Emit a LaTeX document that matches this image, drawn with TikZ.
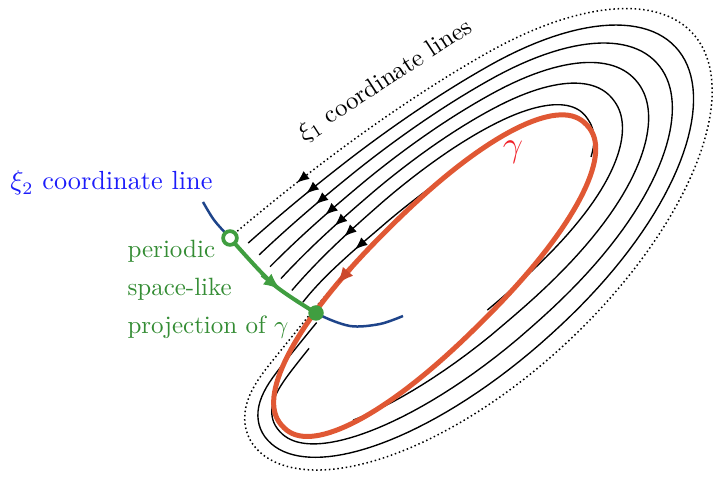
\documentclass[tikz,border=0pt]{standalone}
\usepackage{tikz}
\usetikzlibrary{arrows.meta,calc}

\definecolor{orbitred}{RGB}{224,88,52}
\definecolor{orbitdark}{RGB}{204,72,44}
\definecolor{gammatext}{RGB}{240,32,40}
\definecolor{xiblue}{RGB}{28,28,250}
\definecolor{curveblue}{RGB}{30,68,138}
\definecolor{projgreen}{RGB}{64,158,64}
\definecolor{projtext}{RGB}{52,140,52}

\begin{document}
\begin{tikzpicture}[
    x=0.4pt, y=-0.4pt,
    font=\normalsize,
    xiline/.style    ={line width=0.55pt, line join=round},
    xidots/.style    ={line width=0.6pt, dash pattern=on 0.6pt off 1.1pt},
    xitip/.style     ={line width=0.55pt, -{Latex[length=5pt,width=4pt]}},
    orbit/.style     ={draw=orbitred, line width=2pt},
    orbittip/.style  ={draw=orbitred, line width=2pt, -{Latex[length=7pt,width=5.5pt,color=orbitdark]}},
    proj/.style      ={draw=projgreen, line width=1.6pt},
    projtip/.style   ={draw=projgreen, line width=1.6pt, -{Latex[length=7pt,width=5.5pt]}},
    xitwo/.style     ={draw=curveblue, line width=1pt},
    hollowdot/.style ={circle, draw=projgreen, line width=1.5pt, fill=white, inner sep=0pt, minimum size=5.5pt},
    fulldot/.style   ={circle, fill=projgreen, inner sep=0pt, minimum size=6.2pt},
    % outer line d(t), orbit c(s), and the lines in between
    declare function={
      sg(\x)=1/(1+exp(-max(min(\x,9),-9)));
      sp(\x)=\x*(abs(\x)+0.0001)^(-0.1);
      tau(\t)=(123-\t)/360;
      du(\t)=53+303*cos(\t);
      dv(\t)=6+141*sin(\t)+47*max(1-(123-\t)/60,0)^2;
      cu(\s)=2+214*sp(cos(\s));
      cv(\s)=4+0.03*cu(\s)+66*sp(sin(\s));
      tg(\t)=atan2(0.663*sin(\t),cos(\t))
             -14.4*(exp(max(-(tau(\t)/0.15)^2,-9))+exp(max(-((tau(\t)-1)/0.15)^2,-9)));
      pp(\t)=0.143+0.012*(1-exp(max(-(tau(\t)/0.15)^2,-9)))+0.25*sg((tau(\t)-0.64)/0.06);
      qq(\t)=0.013*(1-exp(max(-(tau(\t)/0.3)^2,-9)));
      ww(\t)=sg((tau(\t)-0.905)/0.03);
      ff(\t,\k)=(\k*pp(\t)+\k*(\k-1)*qq(\t)+0.08*max(\k-5,0)*(1-exp(max(-(tau(\t)/0.08)^2,-9))))*(1-ww(\t))
                +(1+0.15*\k)*ww(\t);
      lu(\t,\k)=du(\t)+ff(\t,\k)*(cu(tg(\t))-du(\t));
      lv(\t,\k)=dv(\t)+ff(\t,\k)*(cv(tg(\t))-dv(\t));
    }
  ]
  \useasboundingbox (0,0) rectangle (713,478);

  \coordinate (g-start) at (230,238);
  \coordinate (g-mid)   at (273,284);
  \coordinate (g-end)   at (316,313);
  \coordinate (b-top)   at (203,202);
  \coordinate (b-end)   at (403,316);

  % --- xi_2 coordinate line ---
  \draw[xitwo] plot[smooth] coordinates {(b-top) (214,220) (g-start) (g-mid) (g-end) (350,326) (380,324) (b-end)};

  \begin{scope}[shift={(436,280)}, rotate=43, yscale=-1]
    % --- xi_1 coordinate lines ---
    \draw[xidots] plot[domain=123:-244.2, samples=160, variable=\t] ({lu(\t,0)},{lv(\t,0)});
    \draw[xiline] plot[domain=123:-235.9, samples=150, variable=\t] ({lu(\t,1)},{lv(\t,1)});
    \draw[xiline] plot[domain=123:-227.6, samples=150, variable=\t] ({lu(\t,2)},{lv(\t,2)});
    \draw[xiline] plot[domain=123:-123.2, samples=110, variable=\t] ({lu(\t,3)},{lv(\t,3)});
    \draw[xiline] plot[domain=123:-87.6,  samples=95,  variable=\t] ({lu(\t,4)},{lv(\t,4)});
    \draw[xiline] plot[domain=123:-31.8,  samples=70,  variable=\t] ({lu(\t,5)},{lv(\t,5)});
    \draw[xiline] plot[domain=123:87,     samples=25,  variable=\t] ({lu(\t,6)},{lv(\t,6)});
    % arrow heads, pointing back to the start
    \foreach \k in {0,...,6}{
      \pgfmathsetmacro\ta{107-0.3*\k}
      \coordinate (a\k-tip)  at ({lu(\ta,\k)},{lv(\ta,\k)});
      \coordinate (a\k-tail) at ({lu(\ta-2,\k)},{lv(\ta-2,\k)});
      \draw[xitip] (a\k-tail) -- (a\k-tip);
    }

    % --- periodic orbit gamma ---
    \draw[orbit] plot[domain=0:360, samples=140, variable=\s] ({cu(\s)},{cv(\s)}) -- cycle;
    \coordinate (o-tail) at ({cu(103)},{cv(103)});
    \coordinate (o-tip)  at ({cu(109)},{cv(109)});
    \draw[orbittip] (o-tail) -- (o-tip);
  \end{scope}

  % --- projection ---
  \coordinate (p-base) at (262,275);
  \coordinate (p-tip)  at (281,290);
  \draw[proj] plot[smooth] coordinates {(g-start) (g-mid) (g-end)};
  \draw[projtip] (p-base) -- (p-tip);
  \node[hollowdot] (start-dot) at (g-start) {};
  \node[fulldot]   (end-dot)   at (g-end) {};

  % --- labels ---
  \node[anchor=base west, inner sep=0pt, text=xiblue, font=\fontsize{10.5}{12.6}\selectfont] (xi2-label) at (10,190)
      {$\xi_2$ coordinate line};
  \node[anchor=west, inner sep=0pt, text=projtext, align=left] (proj-label) at (127,289)
      {periodic\\[3.2pt]space-like\\[3.2pt]projection of $\gamma$};
  \node[anchor=base, rotate=33, inner sep=0pt] (xi1-label) at (389,86) {$\xi_1$ coordinate lines};
  \node[text=gammatext, font=\Large] (gamma-label) at (513,152) {$\gamma$};
\end{tikzpicture}
\end{document}
